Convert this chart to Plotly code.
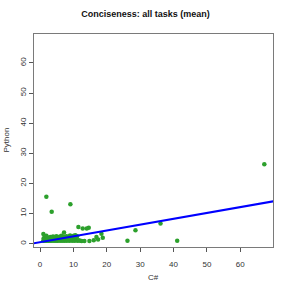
import plotly.graph_objects as go

# C# (x) and Python (y) conciseness, per task (mean)
csharp = [1.0, 1.2, 1.5, 1.8, 2.0, 2.3, 2.5, 2.8, 3.0, 3.3, 3.6, 4.0, 4.2, 4.5, 4.8,
          5.0, 5.3, 5.6, 6.0, 6.3, 6.6, 7.0, 7.3, 7.6, 8.0, 8.4, 8.8, 9.2, 9.6, 10.0,
          10.4, 10.8, 11.2, 11.6, 12.0,
          1.1, 1.4, 1.7, 2.1, 2.6, 3.1, 3.5, 3.9, 4.4, 4.9, 5.4, 5.9, 6.4, 6.9, 7.4,
          7.9, 8.5, 9.0, 9.5, 10.1, 10.6, 11.1,
          1.3, 2.2, 3.4, 4.6, 5.8, 6.8, 8.2, 9.4, 10.3,
          1.0, 1.9, 3.5, 9.1, 7.2, 11.5, 12.8, 14.0, 14.6, 18.4, 18.8, 16.1, 16.9, 17.4,
          14.8, 13.3, 12.5, 26.2, 28.6, 36.1, 41.1, 67.2, 1.9]
python = [1.0, 1.1, 1.0, 1.2, 1.0, 1.1, 1.0, 1.2, 1.0, 1.1, 1.0, 1.2, 1.0, 1.1, 1.0,
          1.2, 1.0, 1.1, 1.0, 1.2, 1.0, 1.1, 1.0, 1.2, 1.0, 1.1, 1.0, 1.2, 1.0, 1.1,
          1.0, 1.2, 1.0, 1.1, 1.0,
          1.8, 2.0, 1.7, 2.1, 1.9, 2.2, 2.0, 2.4, 2.1, 2.5, 2.2, 2.3, 2.6, 2.4, 2.2,
          2.5, 2.3, 2.7, 2.4, 2.6, 2.8, 2.5,
          1.5, 1.6, 1.5, 1.7, 1.6, 1.8, 1.6, 1.9, 1.7,
          3.2, 2.6, 10.6, 13.1, 3.7, 5.5, 5.0, 5.0, 5.3, 3.3, 2.0, 1.1, 2.2, 1.4,
          0.9, 0.9, 0.9, 1.0, 4.5, 6.7, 1.0, 26.4, 15.6]

# Fitted regression line
intercept = 0.5
slope = 0.194
line_x = [-5, 75]
line_y = [intercept + slope * v for v in line_x]

x_ticks = [0, 10, 20, 30, 40, 50, 60]
y_ticks = [0, 10, 20, 30, 40, 50, 60]

W = H = 291
ML, MR, MT, MB = 34, 18, 34, 44
PW, PH = W - ML - MR, H - MT - MB

fig = go.Figure()
fig.add_trace(go.Scatter(x=csharp, y=python, mode="markers",
                         marker=dict(color="#2ca02c", size=4.5, line=dict(width=0)),
                         showlegend=False))
fig.add_trace(go.Scatter(x=line_x, y=line_y, mode="lines",
                         line=dict(color="#0000ff", width=2), showlegend=False))

font = "Liberation Sans, Arial, sans-serif"
axis_common = dict(showgrid=False, zeroline=False, showline=True, mirror=True,
                   linecolor="#7a7a7a", linewidth=1, ticks="outside", ticklen=4,
                   tickcolor="#555", automargin=False,
                   tickfont=dict(size=8, color="#333", family=font))
fig.update_layout(
    width=W, height=H,
    margin=dict(l=ML, r=MR, t=MT, b=MB),
    paper_bgcolor="white", plot_bgcolor="white",
    title=dict(text="<b>Conciseness: all tasks (mean)</b>", x=0.5, xanchor="center",
               y=1 - 14 / H, yanchor="middle",
               font=dict(size=9, color="#111", family=font)),
    xaxis=dict(range=[-1.8, 69.8], tickvals=x_ticks, ticklabelstandoff=5, **axis_common),
    yaxis=dict(range=[-1.1, 69.6], tickvals=y_ticks, tickangle=-90, **axis_common),
    annotations=[
        dict(text="C#", xref="paper", yref="paper", x=0.5, y=(H - MB - 277) / PH,
             showarrow=False, xanchor="center", yanchor="middle",
             font=dict(size=8, color="#333", family=font)),
        dict(text="Python", xref="paper", yref="paper", x=(6 - ML) / PW, y=0.5,
             textangle=-90, showarrow=False, xanchor="center", yanchor="middle",
             font=dict(size=8, color="#333", family=font)),
    ],
)
fig.write_html("out.html", config={"displayModeBar": False},
               post_script="document.body.style.margin='0';document.body.style.overflow='hidden';")
